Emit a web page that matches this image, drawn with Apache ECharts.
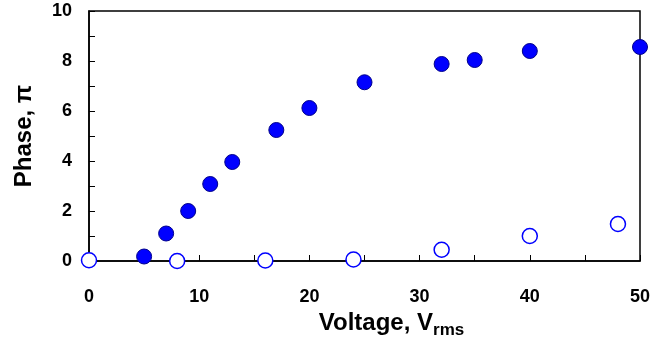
<!DOCTYPE html>
<html>
<head>
<meta charset="utf-8">
<script src="https://cdn.jsdelivr.net/npm/echarts@6/dist/echarts.min.js"></script>
<style>
  html, body { margin: 0; padding: 0; background: #fff; }
  #chart { width: 650px; height: 339px; }
</style>
</head>
<body>
<div id="chart"></div>
<script>
// filled circles
const filledX = [5, 7, 9, 11, 13, 17, 20, 25, 32, 35, 40, 50];
const filledY = [0.18, 1.1, 2.0, 3.08, 3.96, 5.24, 6.12, 7.15, 7.88, 8.04, 8.4, 8.56];
// open circles
const openX = [0, 8, 16, 24, 32, 40, 48];
const openY = [0.03, 0.0, 0.02, 0.06, 0.45, 1.0, 1.48];

const font = 'Liberation Sans, Arial, sans-serif';

const chart = echarts.init(document.getElementById('chart'));

const option = {
  animation: false,
  backgroundColor: '#fff',
  grid: {
    left: 89, right: 10, top: 11, bottom: 78,
    outerBoundsMode: 'none',
    show: true, borderColor: '#000', borderWidth: 1.5
  },
  xAxis: {
    type: 'value',
    min: 0, max: 50, interval: 10,
    name: '{a|Voltage, V}{s|rms}',
    nameLocation: 'middle',
    nameGap: 42,
    nameTextStyle: {
      padding: [0, 0, 0, 54],
      rich: {
        a: { fontFamily: font, fontWeight: 'bold', fontSize: 24, color: '#000', verticalAlign: 'bottom' },
        s: { fontFamily: font, fontWeight: 'bold', fontSize: 17, color: '#000', verticalAlign: 'bottom', padding: [0, 0, -4, 0] }
      }
    },
    axisLine: { lineStyle: { color: '#000', width: 1.5 } },
    axisTick: { inside: true, length: 6, lineStyle: { color: '#000' } },
    minorTick: { show: true, splitNumber: 2, length: 6, lineStyle: { color: '#000' } },
    axisLabel: { fontFamily: font, fontWeight: 'bold', fontSize: 18, color: '#000', margin: 27 },
    splitLine: { show: false }
  },
  yAxis: {
    type: 'value',
    min: 0, max: 10, interval: 2,
    name: 'Phase, π',
    nameLocation: 'middle',
    nameGap: 53,
    nameTextStyle: { fontFamily: font, fontWeight: 'bold', fontSize: 24, color: '#000' },
    axisLine: { lineStyle: { color: '#000', width: 1.5 } },
    axisTick: { inside: true, length: 6, lineStyle: { color: '#000' } },
    minorTick: { show: true, splitNumber: 2, length: 6, lineStyle: { color: '#000' } },
    axisLabel: { fontFamily: font, fontWeight: 'bold', fontSize: 18, color: '#000', margin: 17 },
    splitLine: { show: false }
  },
  series: [
    {
      type: 'scatter',
      symbol: 'circle',
      symbolSize: 15,
      clip: false,
      itemStyle: { color: '#0000ff', opacity: 1, borderColor: '#00008b', borderWidth: 1 },
      data: filledX.map((x, i) => [x, filledY[i]])
    },
    {
      type: 'scatter',
      symbol: 'circle',
      symbolSize: 15,
      clip: false,
      itemStyle: { color: '#fff', opacity: 1, borderColor: '#0000ff', borderWidth: 1.5 },
      data: openX.map((x, i) => [x, openY[i]])
    }
  ]
};

chart.setOption(option);
</script>
</body>
</html>
